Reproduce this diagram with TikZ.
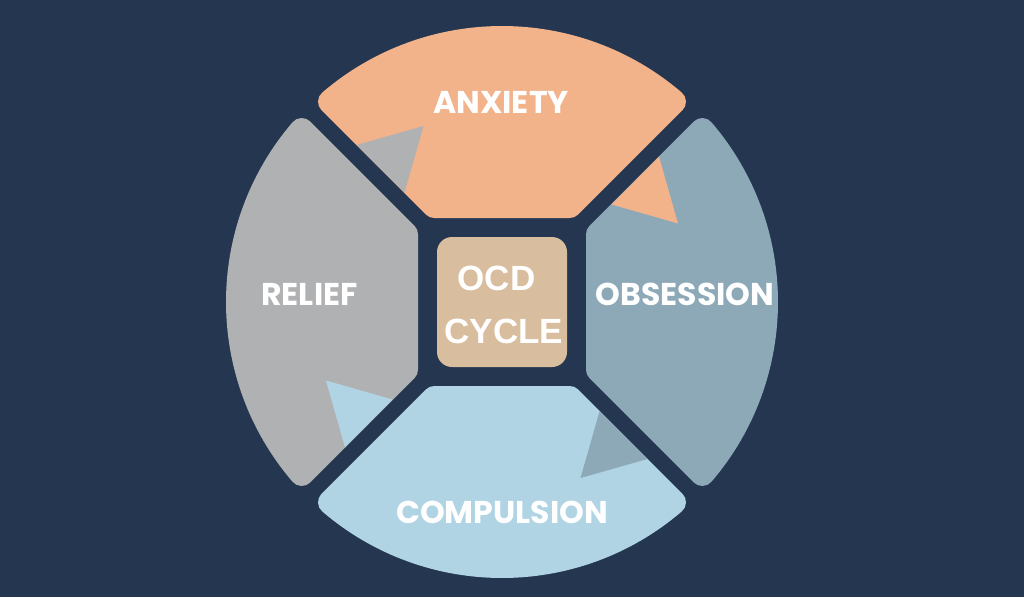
\documentclass[tikz,border=0pt]{standalone}
\usepackage{fontspec}
\newfontfamily\poppins{Poppins}
\newfontfamily\liberation{Liberation Sans}
\newcommand*{\segfont}{\poppins\bfseries\fontsize{31.5}{36}\selectfont}
\newcommand*{\hubfont}{\liberation\bfseries\fontsize{35}{53}\selectfont}
\definecolor{navy}{HTML}{253750}
\definecolor{A}{HTML}{F2B28A}
\definecolor{O}{HTML}{8DA9B8}
\definecolor{C}{HTML}{B0D4E4}
\definecolor{R}{HTML}{B0B1B3}
\definecolor{sand}{HTML}{D8BE9E}
\usepackage{tikz}
\tikzstyle{base}=[inner sep=0pt, outer sep=0pt, x=1pt, y=1pt]
\tikzstyle{seg}=[line width=24pt, line join=round]
\tikzstyle{lbl}=[white, font=\segfont]

\begin{document}
\begin{tikzpicture}[base]
    \fill [navy] (-502,-295) rectangle (522,302);
    \path [use as bounding box] (-502,-295) rectangle (522,302);
    % four segments, shrunk by 12 and stroked for round corners
    \foreach \col/\ang in {A/0, O/-90, C/-180, R/90} {
        \filldraw [seg, \col, rotate=\ang] (-67.7,96) -- (67.7,96) -- (49.35:264pt)
            arc [start angle=49.35, end angle=130.65, radius=264pt] -- cycle;
    }
    % arrow heads into the next segment
    \foreach \col/\ang in {A/0, O/-90, C/-180, R/90} {
        \fill [\col, rotate=\ang] (109.5,97.5) -- (157,145.5) -- (176,78.5) -- cycle;
    }
    \node [lbl] (anxiety) at (-1,200) {ANXIETY};
    \node [lbl] (obsession) at (183,8) {OBSESSION};
    \node [lbl] (compulsion) at (0,-210) {COMPULSION};
    \node [lbl] (relief) at (-192.5,7.5) {RELIEF};
    \node [fill=sand, rounded corners=15pt, minimum size=130pt] (hub) at (0,0) {};
    \node [white, font=\hubfont] (ocd) at (-5.5,24) {OCD};
    \node [white, font=\hubfont] (cycle) at (2,-29) {CYCLE};
\end{tikzpicture}
\end{document}
